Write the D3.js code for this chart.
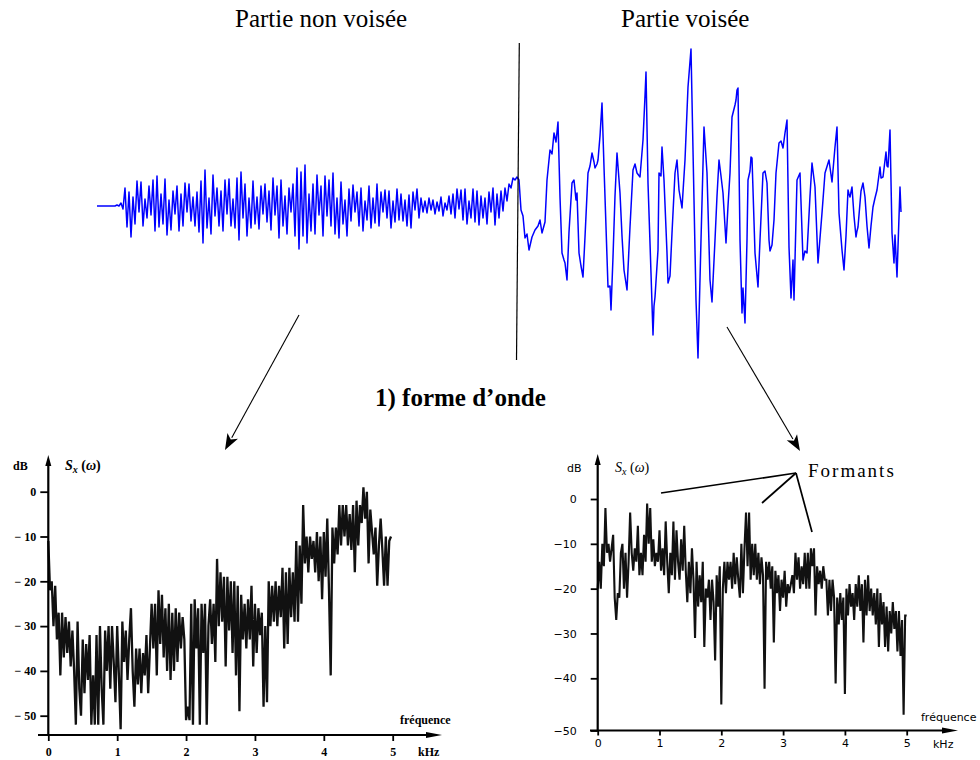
<!DOCTYPE html>
<html>
<head>
<meta charset="utf-8">
<script src="https://cdn.jsdelivr.net/npm/d3@7"></script>
<style>
  body { margin: 0; background: #fff; }
  svg { display: block; }
</style>
</head>
<body>
<svg id="fig" width="980" height="760"></svg>
<script>
// ---------- Speech waveform (amplitude, arbitrary units) ----------
const waveStep = 2;                       // samples between consecutive values
const silenceAmp = [0, 0, 0, 0, 0, 0, 0, 0, 0, 0, 1, 0];
// fricative (unvoiced) segment, sampled every waveStep
const noiseAmp = [
  3, -3, 18, -21, 14, -31, 9, -18, 25, -6,
  24, -20, 7, -12, 20, -9, 26, -25, 30, -21,
  12, -18, 27, -29, 6, -24, 15, -8, 20, -25,
  12, -20, 23, -6, 22, -15, 9, -20, 14, -26,
  25, -37, 36, -22, 8, -28, 31, -10, 18, -20,
  15, -25, 26, -8, 27, -20, 7, -22, 28, -34,
  34, -12, 22, -30, 8, -22, 25, -18, 9, -23,
  20, -8, 22, -16, 15, -24, 28, -9, 20, -32,
  26, -20, 10, -28, 18, -6, 22, -30, 38, -43,
  34, -30, 41, -37, 12, -25, 22, -28, 31, -9,
  20, -30, 30, -10, 26, -20, 33, -28, 8, -32,
  24, -18, 6, -30, 17, -15, 21, -6, 14, -20,
  18, -25, 5, -14, 20, -22, 8, -17, 22, -20,
  14, -6, 16, -12, 15, -22, 5, -16, 17, -14,
  12, -15, 6, -20, 11, -22, 14, -4, 17, -12,
  8, -6, 5, -7, 8, -4, 6, -8, 4, -5,
  9, -10, 3, -4, 10, -8, 12, -12, 17, -3,
  16, -14, 17, -18, 5, -12, 17, -16, 15, -19,
  10, -12, 8, -18, 14, -6, 18, -19, 12, -12,
  15, -5, 18, 5, 22, 18, 28
];
// vowel (voiced) segment: sample index and amplitude
const voicedT = [
  418, 420, 422, 424, 426, 428, 430, 432, 435, 438, 441, 443, 445, 448, 450, 453, 455, 457, 459, 461,
  463, 465, 467, 468, 470, 472, 475, 477, 479, 480, 482, 484, 486, 488, 491, 493, 495, 497, 498, 500,
  501, 503, 505, 507, 509, 511, 513, 514, 516, 518, 520, 523, 525, 527, 530, 533, 536, 538, 540, 543,
  546, 548, 549, 551, 554, 556, 557, 558, 561, 562, 564, 565, 567, 570, 571, 573, 575, 578, 580, 582,
  583, 585, 588, 591, 594, 596, 599, 601, 604, 607, 610, 613, 615, 618, 620, 622, 624, 626, 629, 631,
  633, 635, 638, 639, 640, 641, 643, 645, 646, 648, 650, 651, 653, 654, 655, 658, 661, 663, 666, 668,
  670, 672, 673, 675, 677, 679, 682, 684, 686, 688, 690, 692, 694, 696, 697, 700, 703, 706, 708, 710,
  713, 715, 718, 721, 725, 728, 732, 735, 738, 740, 742, 745, 747, 749, 751, 752, 753, 755, 757, 759,
  760, 761, 764, 766, 768, 770, 772, 774, 776, 778, 780, 783, 784, 786, 789, 790, 791, 793, 795, 797,
  798, 800, 803, 804
];
const voicedA = [
  26, 29, 26, -4, -10, -32, -28, -44, -31, -24, -20, -14, -27, -16, 26, 56, 52, 73, 64, 84,
  9, -47, -54, -57, -74, -26, 23, 26, 6, 13, -47, -60, -71, -31, 33, 40, 53, 44, 38, 42,
  46, 70, 103, 39, -21, -81, -80, -104, -51, 10, 53, 13, -30, -64, -84, -21, 36, 42, 33, 29,
  66, 110, 134, 23, -67, -129, -100, -91, -44, 33, 30, 59, 26, -47, -77, -70, -27, 33, 46, 16,
  10, -2, 46, 119, 157, 56, -94, -152, -34, 79, 33, -74, -96, -34, 10, 46, 30, 13, -37, 0,
  33, 89, 101, 106, 116, 118, -34, -107, -82, -117, -34, 26, 35, 49, 48, -47, -81, -34, 33, 35,
  23, -34, -45, -39, -14, 33, 63, 65, 58, 73, 86, -41, -92, -54, -94, 26, 33, -54, -45, -47,
  10, 43, 19, -57, -7, 33, 46, 24, 59, 79, -7, -44, -64, -30, 16, 12, 9, 19, -10, -31,
  -25, -21, 15, 23, 9, -20, -42, -20, -1, 8, 16, 39, 28, 29, 54, 40, 39, 76, -27, -57,
  -29, -71, 19, -6
];

// ---------- Short-term spectra (dB), one value every specStepKHz ----------
const specStepKHz = 0.025;
const unvoicedDb = [
  -11, -22, -20, -30,  -21, -33, -27, -41,  -27, -37, -28, -36,  -29, -39, -31, -40,
  -52, -29, -44, -50,  -33, -45, -34, -42,  -32, -52, -41, -52,  -32, -52, -30, -44,
  -52, -31, -40, -30,  -44, -30, -38, -47,  -30, -41, -53, -29,  -38, -31, -42, -33,
  -26, -40, -48, -35,  -43, -35, -45, -36,  -41, -32, -45, -35,  -25, -35, -25, -41,
  -22, -34, -23, -37,  -26, -40, -25, -42,  -27, -40, -26, -38,  -27, -35, -28, -33,
  -51, -48, -51, -25,  -52, -24, -35, -26,  -52, -25, -36, -25,  -52, -30, -24, -34,
  -25, -38, -15, -30,  -18, -29, -19, -39,  -19, -31, -20, -36,  -20, -41, -21, -49,
  -23, -33, -25, -35,  -24, -33, -21, -39,  -25, -36, -26, -32,  -27, -48, -30, -47,
  -20, -30, -21, -29,  -20, -30, -21, -28,  -17, -35, -18, -34,  -17, -28, -18, -29,
  -11, -29, -12, -25,  -3, -16, -10, -18,  -10, -15, -11, -18,  -9, -20, -10, -24,
  -9, -19, -6, -22,  -41, -8, -16, -8,  -14, -3, -12, -3,  -10, -3, -12, -5,
  -13, -3, -18, -2,  -12, -3, -7, 1,  -6, 0, -16, -4,  -9, -14, -8, -21,
  -12, -6, -13, -21,  -10, -21, -11, -10
];
const voicedDb = [
  -20, -14, -20, -10,  -15, -2, -12, -10,  -14, -11, -8, -22,  -27, -21, -22, -12,
  -10, -20, -12, -22,  -14, -3, -12, -16,  -11, -14, -6, -17,  -12, -17, -8, -14,
  -1, -10, -2, -14,  -9, -15, -12, -14,  -7, -16, -11, -17,  -5, -14, -21, -12,
  -17, -5, -18, -7,  -14, -18, -9, -16,  -6, -16, -23, -14,  -21, -11, -18, -31,
  -14, -24, -17, -23,  -14, -33, -20, -22,  -18, -27, -18, -23,  -36, -17, -24, -15,
  -45, -20, -14, -21,  -14, -18, -14, -20,  -12, -19, -13, -18,  -22, -10, -21, -11,
  -3, -15, -3, -18,  -10, -17, -10, -18,  -12, -19, -13, -17,  -42, -14, -18, -14,
  -20, -15, -32, -16,  -21, -17, -25, -18,  -22, -16, -24, -19,  -21, -19, -17, -21,
  -12, -18, -13, -20,  -15, -19, -12, -20,  -12, -20, -11, -15,  -11, -26, -15, -19,
  -16, -20, -15, -18,  -18, -26, -18, -25,  -18, -22, -41, -22,  -28, -21, -27, -22,
  -43, -20, -26, -19,  -24, -21, -27, -19,  -24, -17, -25, -19,  -32, -18, -26, -17,
  -25, -20, -26, -21,  -28, -20, -33, -21,  -28, -23, -33, -24,  -34, -25, -30, -23,
  -29, -25, -34, -25,  -35, -27, -47, -26,  -26
];
const freqTicks = [0, 1, 2, 3, 4, 5];
const dbTicks = [0, -10, -20, -30, -40, -50];

const labels = {
  unvoiced: "Partie non voisée",
  voiced: "Partie voisée",
  caption: "1) forme d\u2019onde",
  formants: "Formants",
  freq: "fréquence",
  unit: "kHz",
  db: "dB"
};

// ---------- drawing ----------
const svg = d3.select("#fig");
svg.append("rect").attr("width", 980).attr("height", 760).attr("fill", "#fff");

// headings
svg.append("text").attr("x", 235).attr("y", 27)
  .attr("font-family", "Liberation Serif, Times New Roman, serif").attr("font-size", 25)
  .text(labels.unvoiced);
svg.append("text").attr("x", 621).attr("y", 27)
  .attr("font-family", "Liberation Serif, Times New Roman, serif").attr("font-size", 25)
  .text(labels.voiced);
svg.append("text").attr("x", 375).attr("y", 406)
  .attr("font-family", "Liberation Serif, Times New Roman, serif").attr("font-size", 25)
  .attr("font-weight", "bold").text(labels.caption);

// waveform
const wave = [];
silenceAmp.forEach((a, i) => wave.push([i * waveStep, a]));
const noiseStart = silenceAmp.length * waveStep;
noiseAmp.forEach((a, i) => wave.push([noiseStart + i * waveStep, a]));
voicedT.forEach((t, i) => wave.push([t, voicedA[i]]));

const xWave = d3.scaleLinear().domain([0, 805]).range([97, 902]);
const yWave = d3.scaleLinear().domain([-160, 160]).range([366, 46]);

svg.append("path")
  .datum(wave)
  .attr("fill", "none")
  .attr("stroke", "#0000ff")
  .attr("stroke-width", 1.5)
  .attr("stroke-linejoin", "round")
  .attr("d", d3.line().x(d => xWave(d[0])).y(d => yWave(d[1])));

// boundary between the two parts
svg.append("line").attr("x1", 519.3).attr("y1", 43).attr("x2", 516.5).attr("y2", 360)
  .attr("stroke", "#000").attr("stroke-width", 1.2);

// arrows towards spectra
function arrow(x1, y1, x2, y2, len, half, width) {
  const dx = x2 - x1, dy = y2 - y1, L = Math.hypot(dx, dy);
  const ux = dx / L, uy = dy / L, px = -uy, py = ux;
  const bx = x2 - ux * len, by = y2 - uy * len;
  svg.append("line").attr("x1", x1).attr("y1", y1).attr("x2", bx + ux * 2).attr("y2", by + uy * 2)
    .attr("stroke", "#000").attr("stroke-width", width);
  svg.append("path")
    .attr("d", `M${x2},${y2}L${bx + px * half},${by + py * half}L${bx + ux * len * 0.25},${by + uy * len * 0.25}L${bx - px * half},${by - py * half}Z`)
    .attr("fill", "#000");
}
arrow(299, 315, 225, 450, 16, 6, 1.1);
arrow(727, 327, 800, 451, 16, 6, 1.1);

// ---------- spectrum panels ----------
function spectrum(opt) {
  const g = svg.append("g");
  const x = d3.scaleLinear().domain([0, 5]).range(opt.xRange);
  const y = d3.scaleLinear().domain(opt.yDomain).range(opt.yRange);

  // trace
  const pts = opt.values.map((v, i) => [i * specStepKHz, v]);
  g.append("path").datum(pts)
    .attr("fill", "none").attr("stroke", "#111").attr("stroke-width", opt.traceWidth)
    .attr("stroke-linejoin", "miter").attr("stroke-miterlimit", 3)
    .attr("d", d3.line().x(d => x(d[0])).y(d => y(d[1])));

  // y axis ticks and labels
  const ya = g.append("g").attr("transform", `translate(${x(0)},0)`)
    .call(d3.axisLeft(y).tickValues(dbTicks).tickSize(opt.yTick).tickPadding(opt.yPad)
      .tickFormat(opt.yFormat));
  ya.select(".domain").remove();
  ya.selectAll("line").attr("stroke", "#000").attr("stroke-width", 1.8);
  ya.selectAll("text").attr("font-family", opt.font).attr("font-size", opt.fontSize)
    .attr("font-weight", opt.weight).attr("fill", "#000");

  // x axis ticks and labels
  const xa = g.append("g").attr("transform", `translate(0,${opt.axisY})`)
    .call(d3.axisBottom(x).tickValues(freqTicks).tickSize(opt.xTick).tickPadding(opt.xPad)
      .tickFormat(d3.format("d")));
  xa.select(".domain").remove();
  xa.selectAll("line").attr("stroke", "#000").attr("stroke-width", 1.8);
  xa.selectAll("text").attr("font-family", opt.font).attr("font-size", opt.fontSize)
    .attr("font-weight", opt.weight).attr("fill", "#000");

  // axis lines with arrowheads
  const x0 = x(0);
  g.append("line").attr("x1", x0).attr("y1", opt.axisY + 1).attr("x2", x0).attr("y2", opt.yTop + 6)
    .attr("stroke", "#000").attr("stroke-width", 2.2);
  g.append("path").attr("d", `M${x0},${opt.yTop}L${x0 + 3},${opt.yTop + 11}L${x0 - 3},${opt.yTop + 11}Z`)
    .attr("fill", "#000");
  g.append("line").attr("x1", opt.xStart).attr("y1", opt.axisY).attr("x2", opt.xEnd - 8).attr("y2", opt.axisY)
    .attr("stroke", "#000").attr("stroke-width", 2.2);
  g.append("path").attr("d", `M${opt.xEnd},${opt.axisY}L${opt.xEnd - 16},${opt.axisY - 3}L${opt.xEnd - 16},${opt.axisY + 3}Z`)
    .attr("fill", "#000");

  // annotations
  g.append("text").attr("x", opt.dbX).attr("y", opt.dbY)
    .attr("font-family", opt.font).attr("font-size", opt.fontSize).attr("font-weight", opt.weight)
    .text(labels.db);
  const s = g.append("text").attr("x", opt.sxX).attr("y", opt.dbY)
    .attr("font-family", "Liberation Serif, serif").attr("font-size", 14)
    .attr("font-weight", opt.weight);
  s.append("tspan").attr("font-style", "italic").text("S");
  s.append("tspan").attr("font-style", "italic").attr("font-size", 10).attr("dy", 3).text("x");
  s.append("tspan").attr("dy", -3).text(" (");
  s.append("tspan").attr("font-style", "italic").text("\u03c9");
  s.append("tspan").text(")");
  g.append("text").attr("x", opt.freqX).attr("y", opt.freqY)
    .attr("font-family", opt.font).attr("font-size", opt.fontSize).attr("font-weight", opt.weight)
    .text(labels.freq);
  g.append("text").attr("x", opt.unitX).attr("y", opt.unitY)
    .attr("font-family", opt.font).attr("font-size", opt.fontSize).attr("font-weight", opt.weight)
    .text(labels.unit);
  return { x, y };
}

spectrum({
  values: unvoicedDb,
  xRange: [48.3, 392.7], yDomain: [-50, 0], yRange: [715.7, 491.7],
  axisY: 735, yTop: 455, xStart: 38, xEnd: 442,
  yTick: 8, yPad: 4, xTick: 6, xPad: 6,
  yFormat: d => d === 0 ? "0" : "\u2212 " + (-d),
  font: "Liberation Serif, serif", fontSize: 12, weight: "bold", traceWidth: 2.3,
  dbX: 13, dbY: 470, sxX: 65,
  freqX: 400, freqY: 724, unitX: 418, unitY: 756
});

spectrum({
  values: voicedDb,
  xRange: [597.7, 906.7], yDomain: [-50, -40, 0], yRange: [730.5, 678.3, 499],
  axisY: 730.5, yTop: 454, xStart: 590, xEnd: 958,
  yTick: 7, yPad: 14, xTick: 5, xPad: 4,
  yFormat: d => d === 0 ? "0" : "\u2212" + (-d),
  font: "DejaVu Sans, sans-serif", fontSize: 11, weight: "normal", traceWidth: 2.1,
  dbX: 567, dbY: 472, sxX: 615,
  freqX: 921, freqY: 721, unitX: 933, unitY: 748
});

// formant pointers
const hub = [796, 473];
[[661, 493], [762, 503], [812, 532]].forEach(p => {
  svg.append("line").attr("x1", hub[0]).attr("y1", hub[1]).attr("x2", p[0]).attr("y2", p[1])
    .attr("stroke", "#000").attr("stroke-width", 1.7);
});
svg.append("text").attr("x", 808).attr("y", 477)
  .attr("font-family", "Liberation Serif, Times New Roman, serif").attr("font-size", 19)
  .attr("letter-spacing", 2).text(labels.formants);
</script>
</body>
</html>
